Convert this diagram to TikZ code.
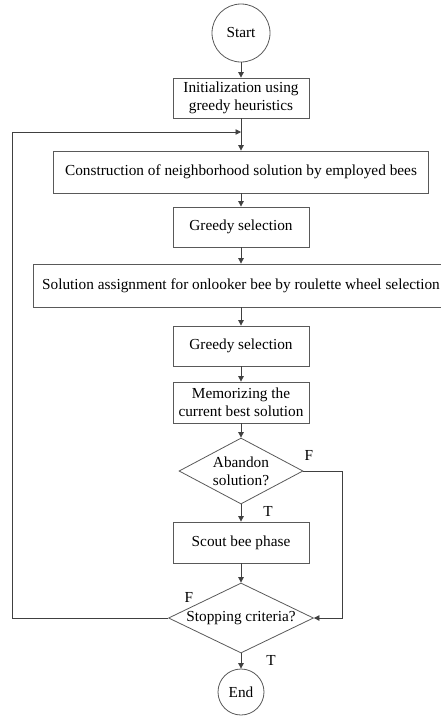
\documentclass[tikz,border=0pt]{standalone}
\usepackage{fontspec}
\setmainfont{Liberation Serif}
\usetikzlibrary{shapes.geometric}
\usetikzlibrary{arrows.meta}

\begin{document}
\begin{tikzpicture}[x=1pt,y=-1pt,inner sep=0pt,
  font=\fontsize{15.3}{18}\selectfont,
  box/.style={draw=black!65,line width=0.8pt,minimum width=136pt,minimum height=40pt,align=center},
  term/.style={draw=black!65,line width=0.8pt,circle},
  test/.style={draw=black!65,line width=0.8pt,diamond,align=center},
  arr/.style={draw=black!75,line width=0.8pt,-{Triangle[length=5.5pt,width=5.5pt]}}]
\useasboundingbox (0,0) rectangle (441,716);
\def\xc{241}
\node[term,minimum size=58pt] (start) at (\xc, 33) {Start};
\node[box] (init) at (\xc, 98) {Initialization using\\greedy heuristics};
\node[box,minimum width=375pt,minimum height=42pt] (constr) at (\xc, 172) {Construction of neighborhood solution by employed bees};
\node[box] (greedy1) at (\xc, 227) {Greedy selection};
\node[box,minimum width=415pt,minimum height=43pt] (assign) at (\xc, 285.5) {Solution assignment for onlooker bee by roulette wheel selection};
\node[box] (greedy2) at (\xc, 346) {Greedy selection};
\node[box,minimum height=41pt] (memo) at (\xc, 402.5) {Memorizing the\\current best solution};
\node[test,aspect=1.9,minimum width=124pt,minimum height=66pt] (abandon) at (\xc, 471) {Abandon\\solution?};
\node[box,minimum height=41pt] (scout) at (\xc, 542.5) {Scout bee phase};
\node[test,aspect=2.1,minimum width=145pt,minimum height=70pt] (stop) at (\xc, 618) {Stopping criteria?};
\node[term,minimum size=46pt] (end) at (\xc, 692) {End};
\coordinate (merge) at (\xc, 132);

% branch labels
\node (fa) at (309, 455) {F};
\node (ta) at (268, 511) {T};
\node (fs) at (189, 597) {F};
\node (ts) at (271, 660) {T};

\draw[arr] (start) -- (init);
\draw[arr] (init) -- (constr);
\draw[arr] (constr) -- (greedy1);
\draw[arr] (greedy1) -- (assign);
\draw[arr] (assign) -- (greedy2);
\draw[arr] (greedy2) -- (memo);
\draw[arr] (memo) -- (abandon);
\draw[arr] (abandon) -- (scout);
\draw[arr] (scout) -- (stop);
\draw[arr] (stop) -- (end);
\draw[arr] (abandon.east) -- ++(39,0) |- (stop.east);
\draw[arr] (stop.west) -- (12, 618) |- (merge);
\end{tikzpicture}
\end{document}
